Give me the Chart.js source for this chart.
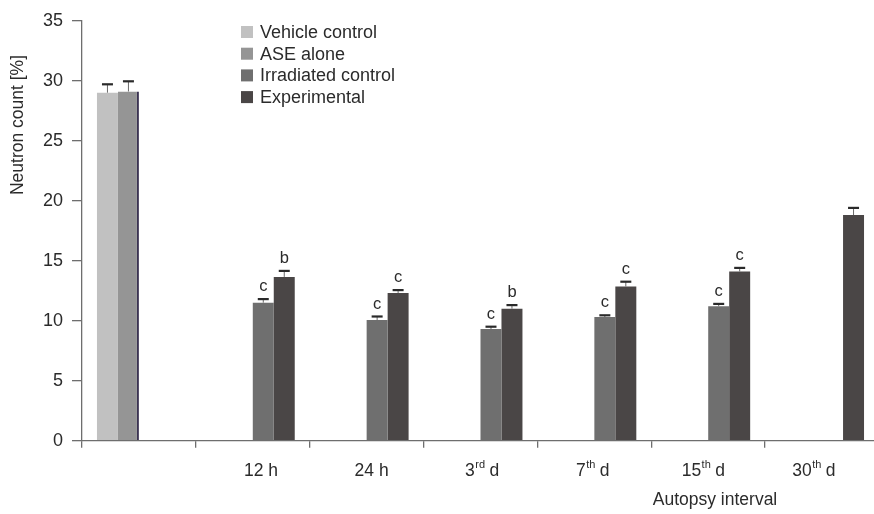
<!DOCTYPE html>
<html>
<head>
<meta charset="utf-8">
<script src="https://cdn.jsdelivr.net/npm/chart.js@4.4.1/dist/chart.umd.min.js"></script>
<style>
  html, body { margin: 0; padding: 0; background: #fff; overflow: hidden; }
  #wrap { width: 874px; height: 514px; overflow: hidden; }
  canvas { display: block; }
</style>
</head>
<body>
<div id="wrap"><canvas id="chart" width="884" height="514"></canvas></div>
<script>
// Autopsy intervals (first group holds the two controls)
const categories = ['', '12 h', '24 h', '3rd d', '7th d', '15th d', '30th d'];

// Mean neutron counts per group
const vehicleControl    = [29.0, null, null, null, null, null, null];
const aseAlone          = [29.1, null, null, null, null, null, null];
const irradiatedControl = [null, 11.5, 10.05, 9.3, 10.3, 11.2, null];
const experimental      = [null, 13.65, 12.3, 11.0, 12.85, 14.1, 18.8];

// Standard errors
const vehicleErr      = [0.7, null, null, null, null, null, null];
const aseErr          = [0.85, null, null, null, null, null, null];
const irradiatedErr   = [null, 0.3, 0.3, 0.2, 0.15, 0.2, null];
const experimentalErr = [null, 0.5, 0.25, 0.3, 0.4, 0.3, 0.6];

// Significance letters
const irradiatedSig   = [null, 'c', 'c', 'c', 'c', 'c', null];
const experimentalSig = [null, 'b', 'c', 'b', 'c', 'c', null];

// Y axis ticks
const yTicks = [0, 5, 10, 15, 20, 25, 30, 35];

const FONT = "'Liberation Sans', Arial, Helvetica, sans-serif";
const TEXT = '#2b2b2b';
const AXIS = '#6e6e6e';

// Error bars and significance letters above each bar
const errorBarPlugin = {
  id: 'errorBars',
  afterDatasetsDraw(chart) {
    const ctx = chart.ctx;
    const y = chart.scales.y;
    chart.data.datasets.forEach((ds, di) => {
      const meta = chart.getDatasetMeta(di);
      meta.data.forEach((bar, i) => {
        const v = ds.data[i];
        const e = ds.errors[i];
        if (v == null || e == null) return;
        const top = y.getPixelForValue(v + e);
        ctx.save();
        ctx.strokeStyle = '#6a6a6a';
        ctx.lineWidth = 1;
        ctx.beginPath();
        ctx.moveTo(bar.x, bar.y);
        ctx.lineTo(bar.x, top);
        ctx.stroke();
        ctx.strokeStyle = '#2a2a2a';
        ctx.lineWidth = 2.2;
        ctx.beginPath();
        ctx.moveTo(bar.x - 5.5, top);
        ctx.lineTo(bar.x + 5.5, top);
        ctx.stroke();
        const sig = ds.sig[i];
        if (sig) {
          ctx.fillStyle = TEXT;
          ctx.font = '16.5px ' + FONT;
          ctx.textAlign = 'center';
          ctx.textBaseline = 'alphabetic';
          ctx.fillText(sig, bar.x, top - 8);
        }
        ctx.restore();
      });
    });
  }
};

// Category labels with ordinal superscripts, axis titles and the legend box
const annotationsPlugin = {
  id: 'annotations',
  afterDraw(chart) {
    const ctx = chart.ctx;
    const x = chart.scales.x;
    const area = chart.chartArea;
    // labels sit slightly drawn in toward the middle of the labelled groups
    const mid = (x.getPixelForValue(1) + x.getPixelForValue(categories.length - 1)) / 2;
    ctx.save();
    ctx.fillStyle = TEXT;
    ctx.textBaseline = 'alphabetic';
    const base = 476;
    categories.forEach((lab, i) => {
      if (!lab) return;
      const px = x.getPixelForValue(i);
      const cx = px + (mid - px) * 0.029;
      const m = lab.match(/^(\d+)(st|nd|rd|th)(.*)$/);
      const mainFont = '17.5px ' + FONT;
      const supFont = '11px ' + FONT;
      if (m) {
        ctx.font = mainFont;
        const w1 = ctx.measureText(m[1]).width;
        const w3 = ctx.measureText(m[3]).width;
        ctx.font = supFont;
        const w2 = ctx.measureText(m[2]).width;
        const sx = cx - (w1 + w2 + w3) / 2;
        ctx.textAlign = 'left';
        ctx.font = mainFont;
        ctx.fillText(m[1], sx, base);
        ctx.font = supFont;
        ctx.fillText(m[2], sx + w1 + 0.5, base - 8);
        ctx.font = mainFont;
        ctx.fillText(m[3], sx + w1 + w2, base);
      } else {
        ctx.font = mainFont;
        ctx.textAlign = 'center';
        ctx.fillText(lab, cx, base);
      }
    });

    // axis titles
    ctx.font = '17.5px ' + FONT;
    ctx.textAlign = 'center';
    ctx.textBaseline = 'middle';
    ctx.fillText('Autopsy interval', 715, 500);
    ctx.save();
    ctx.translate(18, 125);
    ctx.rotate(-Math.PI / 2);
    ctx.fillText('Neutron count [%]', 0, 0);
    ctx.restore();

    // legend
    ctx.font = '18px ' + FONT;
    ctx.textAlign = 'left';
    ctx.textBaseline = 'middle';
    chart.data.datasets.forEach((ds, i) => {
      const cy = 33 + i * 21.7;
      ctx.fillStyle = ds.backgroundColor;
      ctx.fillRect(241, cy - 7, 12, 12);
      ctx.fillStyle = TEXT;
      ctx.fillText(ds.label, 260, cy);
    });
    ctx.restore();
  }
};

new Chart(document.getElementById('chart'), {
  type: 'bar',
  data: {
    labels: categories,
    datasets: [
      { label: 'Vehicle control', data: vehicleControl, errors: vehicleErr, sig: [], backgroundColor: '#c1c1c1' },
      { label: 'ASE alone', data: aseAlone, errors: aseErr, sig: [], backgroundColor: '#959595',
        borderColor: '#3b3352', borderWidth: { top: 0, left: 0, bottom: 0, right: 2 }, borderSkipped: false },
      { label: 'Irradiated control', data: irradiatedControl, errors: irradiatedErr, sig: irradiatedSig, backgroundColor: '#6f6f6f' },
      { label: 'Experimental', data: experimental, errors: experimentalErr, sig: experimentalSig, backgroundColor: '#4a4646' }
    ]
  },
  options: {
    responsive: false,
    animation: false,
    events: [],
    categoryPercentage: 0.737,
    barPercentage: 1.0,
    layout: { padding: { top: 20.7, right: 5, left: 0, bottom: 0 } },
    plugins: { legend: { display: false }, tooltip: { enabled: false } },
    scales: {
      x: {
        offset: true,
        grid: { offset: true, drawOnChartArea: false, drawTicks: true, tickLength: 7, color: AXIS, lineWidth: 1.3 },
        border: { display: true, color: AXIS, width: 1.3 },
        ticks: { display: false },
        afterFit(scale) { scale.height = 514 - 440.7; }
      },
      y: {
        min: 0,
        max: 35,
        afterBuildTicks(scale) { scale.ticks = yTicks.map(v => ({ value: v })); },
        grid: { drawOnChartArea: false, drawTicks: true, tickLength: 10, color: AXIS, lineWidth: 1.3 },
        border: { display: true, color: AXIS, width: 1.3 },
        ticks: { color: TEXT, padding: 9, font: { size: 18, family: FONT } },
        afterFit(scale) { scale.width = 82; }
      }
    }
  },
  plugins: [errorBarPlugin, annotationsPlugin]
});
</script>
</body>
</html>
